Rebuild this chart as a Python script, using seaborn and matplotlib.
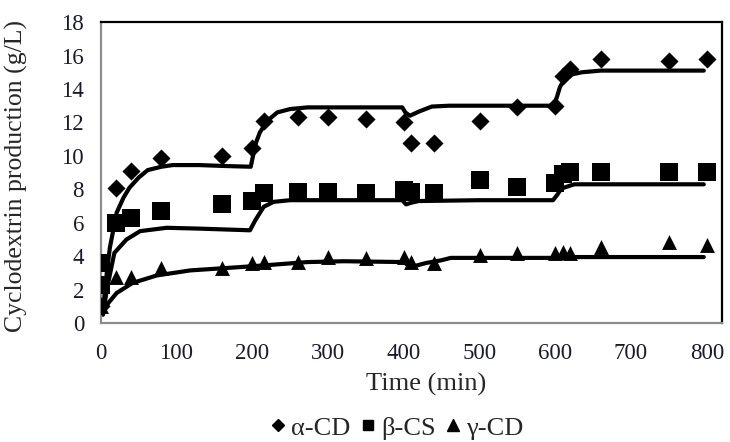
import pandas as pd
import matplotlib
matplotlib.use("Agg")
import matplotlib.pyplot as plt
from matplotlib.lines import Line2D
import seaborn as sns
import numpy as np

# measured points
alpha_t = [0, 20, 40, 80, 160, 200, 215, 260, 300, 350, 400, 410, 440, 500, 550, 600, 610, 620, 660, 750, 800]
alpha_y = [1.0, 8.1, 9.1, 9.9, 10.0, 10.5, 12.1, 12.3, 12.3, 12.2, 12.0, 10.8, 10.8, 12.1, 12.9, 13.0, 14.8, 15.2, 15.8, 15.7, 15.8]

beta_t = [0, 0, 20, 40, 80, 160, 200, 215, 260, 300, 350, 400, 410, 440, 500, 550, 600, 610, 620, 660, 750, 800]
beta_y = [2.3, 3.6, 6.0, 6.3, 6.7, 7.1, 7.3, 7.8, 7.85, 7.85, 7.8, 7.95, 7.85, 7.8, 8.55, 8.15, 8.4, 8.9, 9.05, 9.05, 9.05, 9.05]

gamma_t = [0, 20, 40, 80, 160, 200, 215, 260, 300, 350, 400, 410, 440, 500, 550, 600, 610, 620, 660, 750, 800]
gamma_y = [1.0, 2.75, 2.75, 3.3, 3.3, 3.6, 3.65, 3.65, 3.95, 3.9, 3.95, 3.65, 3.6, 4.05, 4.2, 4.2, 4.25, 4.2, 4.55, 4.85, 4.65]

# fitted model curves
alpha_fit_t = [3, 8, 12, 21, 30, 38, 50, 62, 80, 95, 130, 160, 198, 201, 205, 210, 220, 233, 250, 273, 320, 398, 402, 408, 420, 437, 460, 520, 598, 602, 606, 612, 620, 635, 660, 740, 796]
alpha_fit_y = [0.8, 3.0, 4.5, 6.6, 7.5, 8.1, 8.7, 9.15, 9.35, 9.45, 9.45, 9.4, 9.35, 10.0, 10.8, 11.4, 12.1, 12.6, 12.8, 12.9, 12.9, 12.9, 12.6, 12.4, 12.65, 12.95, 13.0, 13.0, 13.0, 13.5, 14.1, 14.6, 14.85, 15.0, 15.1, 15.1, 15.1]

beta_fit_t = [3, 8, 18, 34, 52, 87, 130, 197, 204, 215, 228, 250, 300, 398, 403, 410, 420, 500, 597, 603, 608, 625, 660, 740, 796]
beta_fit_y = [0.5, 2.0, 4.2, 5.0, 5.5, 5.7, 5.65, 5.55, 6.15, 6.95, 7.25, 7.35, 7.35, 7.35, 7.1, 7.2, 7.3, 7.35, 7.35, 7.7, 8.05, 8.3, 8.3, 8.3, 8.3]

gamma_fit_t = [3, 10, 21, 42, 74, 118, 184, 215, 273, 321, 400, 409, 430, 449, 462, 520, 600, 625, 700, 796]
gamma_fit_y = [0.6, 1.2, 1.8, 2.4, 2.85, 3.15, 3.35, 3.45, 3.65, 3.7, 3.65, 3.35, 3.6, 3.75, 3.9, 3.9, 3.9, 3.95, 3.95, 3.95]

labels = ["α-CD", "β-CS", "γ-CD"]

pts = pd.concat([
    pd.DataFrame({"t": alpha_t, "y": alpha_y, "cd": labels[0]}),
    pd.DataFrame({"t": beta_t, "y": beta_y, "cd": labels[1]}),
    pd.DataFrame({"t": gamma_t, "y": gamma_y, "cd": labels[2]}),
])
fits = pd.concat([
    pd.DataFrame({"t": alpha_fit_t, "y": alpha_fit_y, "cd": labels[0]}),
    pd.DataFrame({"t": beta_fit_t, "y": beta_fit_y, "cd": labels[1]}),
    pd.DataFrame({"t": gamma_fit_t, "y": gamma_fit_y, "cd": labels[2]}),
])

sns.set_style("white")
plt.rcParams["font.family"] = ["Liberation Serif", "DejaVu Serif"]

fig = plt.figure(figsize=(7.3, 4.42), dpi=100)
ax = fig.add_axes([0.138, 0.269, 0.851, 0.681])

sns.lineplot(data=fits, x="t", y="y", units="cd", estimator=None, color="black",
             linewidth=3.0, ax=ax, legend=False)
markers = {labels[0]: "D", labels[1]: "s", labels[2]: "^"}
sizes = {labels[0]: 85, labels[1]: 160, labels[2]: 115}
for lab in labels:
    sub = pts[pts["cd"] == lab]
    sns.scatterplot(data=sub, x="t", y="y", marker=markers[lab], s=sizes[lab],
                    color="black", edgecolor="black", linewidth=0, ax=ax,
                    zorder=3, legend=False)

ax.set_xlim(0, 820)
ax.set_ylim(0, 18)
ax.set_xticks(range(0, 801, 100))
ax.set_yticks(range(0, 19, 2))
ax.tick_params(labelsize=16.5, length=0, colors="#1a1a2e")
ax.tick_params(axis="y", pad=12)
ax.tick_params(axis="x", pad=14)
ax.set_xlabel("Time (min)", fontsize=19)
ax.set_ylabel("Cyclodextrin production (g/L)", fontsize=18.5)
ax.xaxis.set_label_coords(0.523, -0.165)
ax.yaxis.set_label_coords(-0.117, 0.49)
for side in ["left", "bottom"]:
    ax.spines[side].set_color("#8c8c8c")
    ax.spines[side].set_linewidth(1.6)
for side in ["top", "right"]:
    ax.spines[side].set_color("black")
    ax.spines[side].set_linewidth(1.6)

leg_sizes = {labels[0]: 6.5, labels[1]: 7.5, labels[2]: 8}
handles = [Line2D([], [], marker=markers[l], color="black", linestyle="none",
                  markersize=leg_sizes[l]) for l in labels]
fig.legend(handles, labels, loc="center", bbox_to_anchor=(0.54, 0.032), ncol=3,
           frameon=False, fontsize=19, handletextpad=0.0, columnspacing=0.15,
           handlelength=1.0)

fig.savefig("out.png", dpi=100)
